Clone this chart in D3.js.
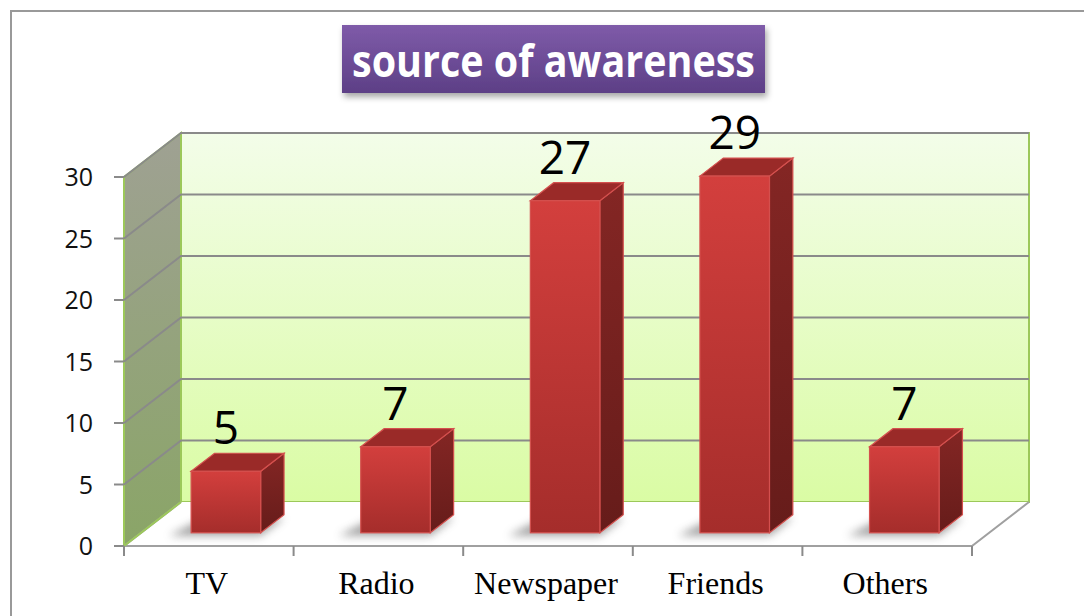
<html>
<head>
<script src="https://d3js.org/d3.v7.min.js"></script>
<style>
    body { margin: 0; background: #fff; }
</style>
</head>
<body>
<svg id="chart" width="1084" height="616"></svg>
<script>
    // data
    const categories = ["TV", "Radio", "Newspaper", "Friends", "Others"];
    const counts = [5, 7, 27, 29, 7];
    const yTicks = [0, 5, 10, 15, 20, 25, 30];
    const title = "source of awareness";

    const svg = d3.select("#chart");
    const defs = svg.append("defs");

    function vGrad(id, top, bottom) {
        const g = defs.append("linearGradient").attr("id", id)
            .attr("x1", 0).attr("y1", 0).attr("x2", 0).attr("y2", 1);
        g.append("stop").attr("offset", "0%").attr("stop-color", top);
        g.append("stop").attr("offset", "100%").attr("stop-color", bottom);
    }
    vGrad("backWall", "#f3fde9", "#dafca4");
    vGrad("leftWall", "#9fa193", "#8aa567");
    vGrad("barFront", "#d33f3d", "#a52d2b");
    vGrad("barSide", "#842624", "#661c1a");
    vGrad("titleBg", "#7f5ba9", "#5d3f86");

    defs.append("filter").attr("id", "blur")
        .attr("x", "-50%").attr("y", "-50%").attr("width", "200%").attr("height", "200%")
        .append("feGaussianBlur").attr("stdDeviation", 4);

    const ts = defs.append("filter").attr("id", "titleShadow")
        .attr("x", "-10%").attr("y", "-20%").attr("width", "120%").attr("height", "160%");
    ts.append("feDropShadow").attr("dx", 2).attr("dy", 4).attr("stdDeviation", 3)
        .attr("flood-color", "#000").attr("flood-opacity", 0.35);

    // outer frame
    svg.append("rect").attr("x", 11).attr("y", 11).attr("width", 1200).attr("height", 800)
        .attr("fill", "none").attr("stroke", "#999").attr("stroke-width", 2);

    // scales
    const x = d3.scaleBand().domain(categories).range([124, 972]);
    const y = d3.scaleLinear().domain([0, 30]).range([546, 177]);
    const depth = { dx: 57, dy: -44 };      // full depth of the box
    const barStart = 0.3, barDepth = 0.41;   // share of the depth used by the bars
    const barWidth = x.bandwidth() * 0.41;

    const x0 = x.range()[0], x1 = x.range()[1];
    const yTop = y(30), yBase = y(0);
    const pts = p => p.map(d => d.join(",")).join(" ");

    // back wall
    svg.append("polygon")
        .attr("points", pts([[x0 + depth.dx, yTop + depth.dy], [x1 + depth.dx, yTop + depth.dy],
                             [x1 + depth.dx, yBase + depth.dy], [x0 + depth.dx, yBase + depth.dy]]))
        .attr("fill", "url(#backWall)").attr("stroke", "#9cc85a").attr("stroke-width", 2);

    // left wall
    svg.append("polygon")
        .attr("points", pts([[x0, yTop], [x0 + depth.dx, yTop + depth.dy],
                             [x0 + depth.dx, yBase + depth.dy], [x0, yBase]]))
        .attr("fill", "url(#leftWall)").attr("stroke", "#9cc85a").attr("stroke-width", 2);

    // gridlines on both walls
    const grid = svg.append("g").attr("stroke", "#8a8a8a").attr("stroke-width", 2).attr("fill", "none");
    yTicks.filter(v => v > 0).forEach(v => {
        grid.append("polyline")
            .attr("points", pts([[x0, y(v)], [x0 + depth.dx, y(v) + depth.dy], [x1 + depth.dx, y(v) + depth.dy]]));
    });

    // floor
    svg.append("polygon")
        .attr("points", pts([[x0, yBase], [x1, yBase], [x1 + depth.dx, yBase + depth.dy], [x0 + depth.dx, yBase + depth.dy]]))
        .attr("fill", "#fff").attr("stroke", "none");
    svg.append("polyline")
        .attr("points", pts([[x0 + depth.dx, yBase + depth.dy], [x0, yBase], [x1, yBase], [x1 + depth.dx, yBase + depth.dy]]))
        .attr("fill", "none").attr("stroke", "#a0a0a0").attr("stroke-width", 2);
    svg.append("line")
        .attr("x1", x0).attr("y1", yBase).attr("x2", x0 + depth.dx).attr("y2", yBase + depth.dy)
        .attr("stroke", "#9cc85a").attr("stroke-width", 2);

    // axis ticks
    const axisG = svg.append("g");
    yTicks.forEach(v => {
        axisG.append("line").attr("x1", x0 - 10).attr("x2", x0).attr("y1", y(v)).attr("y2", y(v))
            .attr("stroke", "#8a8a8a").attr("stroke-width", 2);
        axisG.append("text").attr("x", 93).attr("y", y(v) + 9)
            .attr("text-anchor", "end").attr("font-family", "Open Sans").attr("font-size", 25)
            .attr("fill", "#111").text(v);
    });
    categories.concat(["_end"]).forEach((c, i) => {
        const xx = i < categories.length ? x(c) : x1;
        axisG.append("line").attr("x1", xx).attr("x2", xx).attr("y1", yBase).attr("y2", yBase + 10)
            .attr("stroke", "#8a8a8a").attr("stroke-width", 2);
    });
    categories.forEach(c => {
        axisG.append("text").attr("x", x(c) + x.bandwidth() / 2 - 2).attr("y", 594)
            .attr("text-anchor", "middle").attr("font-family", "Liberation Serif").attr("font-size", 32)
            .attr("fill", "#000").text(c);
    });

    // bars
    const fx = depth.dx * barStart, fy = depth.dy * barStart;
    const bx = depth.dx * barDepth, by = depth.dy * barDepth;
    const bars = svg.append("g").selectAll("g").data(categories).join("g");
    bars.each(function (c, i) {
        const g = d3.select(this);
        const left = x(c) + x.bandwidth() / 2 - barWidth / 2 + fx;
        const right = left + barWidth;
        const bottom = yBase + fy;
        const top = y(counts[i]) + fy;
        // shadow on the floor
        g.append("polygon")
            .attr("points", pts([[left - 22, bottom + 3], [right, bottom + 3], [right + bx, bottom + by + 3], [left - 10 + bx, bottom + by + 3]]))
            .attr("fill", "#555").attr("opacity", 0.55).attr("filter", "url(#blur)");
        // side
        g.append("polygon")
            .attr("points", pts([[right, top], [right + bx, top + by], [right + bx, bottom + by], [right, bottom]]))
            .attr("fill", "url(#barSide)").attr("stroke", "#d4504e").attr("stroke-width", 1.2);
        // top
        g.append("polygon")
            .attr("points", pts([[left, top], [left + bx, top + by], [right + bx, top + by], [right, top]]))
            .attr("fill", "#9a2a28").attr("stroke", "#d4504e").attr("stroke-width", 1.2);
        // front
        g.append("rect").attr("x", left).attr("y", top).attr("width", barWidth).attr("height", bottom - top)
            .attr("fill", "url(#barFront)").attr("stroke", "#d4504e").attr("stroke-width", 1.2);
        // value label
        g.append("text").attr("x", left + barWidth / 2).attr("y", top + by - 9)
            .attr("text-anchor", "middle").attr("font-family", "Open Sans").attr("font-size", 46)
            .attr("fill", "#000").text(counts[i]);
    });

    // title box
    const tg = svg.append("g");
    tg.append("rect").attr("x", 342).attr("y", 25).attr("width", 423).attr("height", 68)
        .attr("fill", "url(#titleBg)").attr("filter", "url(#titleShadow)");
    const tt = tg.append("text").attr("x", 553.5).attr("y", 0)
        .attr("transform", "translate(0,77) scale(1,1.15)")
        .attr("text-anchor", "middle").attr("font-family", "Open Sans").attr("font-weight", "bold")
        .attr("font-size", 40).attr("fill", "#fff").text(title);
    const w = tt.node().getComputedTextLength();
    tt.attr("font-size", 40 * 403 / w);
</script>
</body>
</html>
